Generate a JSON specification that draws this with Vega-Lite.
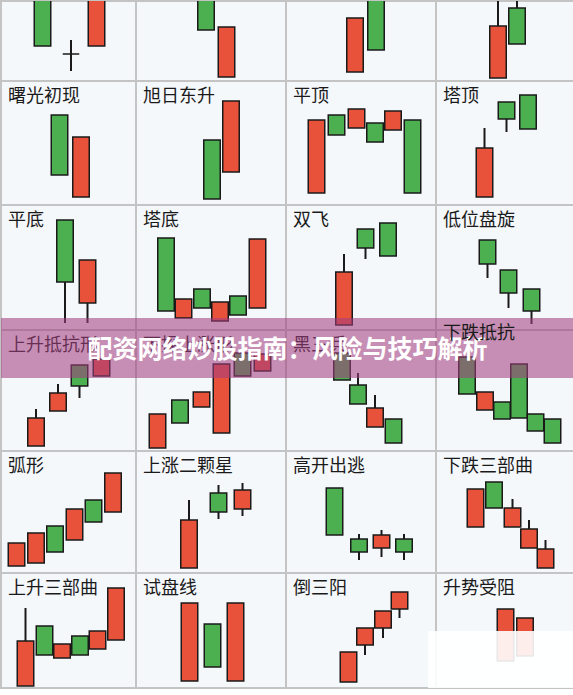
{
"$schema": "https://vega.github.io/schema/vega-lite/v6.json",
"background": "#FFFFFF",
"padding": 0,
"spacing": 0,
"columns": 4,
"bounds": "flush",
"resolve": {"scale": {"x": "independent", "y": "independent"}},
"config": {
 "view": {"fill": "#F5F8FA", "stroke": "#C4C4C4", "strokeWidth": 2},
 "scale": {"continuousPadding": 0},
 "bar": {"stroke": "#1A1A1A", "strokeWidth": 1.5, "continuousBandSize": 16.5},
 "rule": {"color": "#1A1A1A", "strokeWidth": 2},
 "title": {"anchor": "start", "frame": "group", "orient": "top", "offset": -25, "baseline": "alphabetic", "dx": 7, "font": "Noto Sans CJK SC", "fontSize": 18, "fontWeight": "normal", "color": "#1A1A1A"},
 "concat": {"spacing": 0}
},
"datasets": {
 "banner": [{"label":"配资网络炒股指南：风险与技巧解析","x0":-43.5,"x1":13.8,"y0":133,"y1":73,"tx":-14.85,"ty":101}],
 "fade": [{"x0":-0.8,"x1":13.8,"y0":57,"y1":0}]
},
"data": {"values": [
 {"p":"早晨十字星","t":4.15,"o":90,"c":35,"h":90,"l":35},
 {"p":"早晨十字星","t":7.0,"o":27,"c":27,"h":41,"l":10},
 {"p":"早晨十字星","t":9.55,"o":35,"c":90,"h":90,"l":35},
 {"p":"r0b","t":7.0,"o":95,"c":51,"h":95,"l":51},
 {"p":"r0b","t":9.05,"o":4,"c":54,"h":54,"l":4},
 {"p":"r0c","t":6.9,"o":9,"c":63,"h":63,"l":9},
 {"p":"r0c","t":9.0,"o":95,"c":31,"h":95,"l":31},
 {"p":"r0d","t":6.2,"o":3,"c":55,"h":95,"l":3},
 {"p":"r0d","t":8.1,"o":73,"c":37,"h":95,"l":37},
 {"p":"曙光初现","t":5.85,"o":90,"c":30,"h":90,"l":30},
 {"p":"曙光初现","t":8.0,"o":8,"c":68,"h":68,"l":8},
 {"p":"旭日东升","t":7.6,"o":65,"c":6,"h":65,"l":6},
 {"p":"旭日东升","t":9.5,"o":33,"c":104,"h":104,"l":33},
 {"p":"平顶","t":3.05,"o":12,"c":85,"h":85,"l":12},
 {"p":"平顶","t":5.05,"o":90,"c":70,"h":90,"l":70},
 {"p":"平顶","t":7.05,"o":77,"c":96,"h":96,"l":77},
 {"p":"平顶","t":8.9,"o":82,"c":63,"h":82,"l":63},
 {"p":"平顶","t":10.7,"o":75,"c":94,"h":94,"l":75},
 {"p":"平顶","t":12.65,"o":85,"c":12,"h":85,"l":12},
 {"p":"塔顶","t":4.85,"o":8,"c":57,"h":77,"l":8},
 {"p":"塔顶","t":7.05,"o":103,"c":86,"h":103,"l":73},
 {"p":"塔顶","t":9.2,"o":110,"c":76,"h":110,"l":76},
 {"p":"平底","t":6.4,"o":110,"c":48,"h":110,"l":7},
 {"p":"平底","t":8.65,"o":27,"c":70,"h":70,"l":7},
 {"p":"塔底","t":3.0,"o":92,"c":19,"h":92,"l":19},
 {"p":"塔底","t":4.75,"o":12,"c":31,"h":31,"l":12},
 {"p":"塔底","t":6.6,"o":41,"c":22,"h":41,"l":22},
 {"p":"塔底","t":8.4,"o":9,"c":28,"h":28,"l":9},
 {"p":"塔底","t":10.2,"o":34,"c":15,"h":34,"l":15},
 {"p":"塔底","t":12.15,"o":22,"c":91,"h":91,"l":22},
 {"p":"双飞","t":5.8,"o":5,"c":58,"h":76,"l":5},
 {"p":"双飞","t":7.95,"o":101,"c":82,"h":101,"l":71},
 {"p":"双飞","t":10.2,"o":107,"c":74,"h":107,"l":74},
 {"p":"低位盘旋","t":5.15,"o":90,"c":66,"h":90,"l":52},
 {"p":"低位盘旋","t":7.25,"o":60,"c":37,"h":60,"l":22},
 {"p":"低位盘旋","t":9.55,"o":41,"c":19,"h":41,"l":6},
 {"p":"上升抵抗形","t":3.5,"o":5,"c":33,"h":42,"l":5},
 {"p":"上升抵抗形","t":5.7,"o":40,"c":58,"h":67,"l":40},
 {"p":"上升抵抗形","t":7.85,"o":86,"c":65,"h":86,"l":53},
 {"p":"上升抵抗形","t":10.05,"o":75,"c":92,"h":92,"l":75},
 {"p":"下探上涨形","t":2.15,"o":3,"c":37,"h":37,"l":3},
 {"p":"下探上涨形","t":4.4,"o":51,"c":28,"h":51,"l":28},
 {"p":"下探上涨形","t":6.55,"o":44,"c":59,"h":59,"l":44},
 {"p":"下探上涨形","t":8.55,"o":18,"c":87,"h":87,"l":18},
 {"p":"下探上涨形","t":10.65,"o":98,"c":75,"h":98,"l":75},
 {"p":"下探上涨形","t":12.65,"o":80,"c":97,"h":97,"l":80},
 {"p":"黑三兵","t":5.6,"o":98,"c":71,"h":98,"l":71},
 {"p":"黑三兵","t":7.2,"o":66,"c":47,"h":78,"l":47},
 {"p":"黑三兵","t":8.9,"o":24,"c":43,"h":56,"l":24},
 {"p":"黑三兵","t":10.75,"o":32,"c":8,"h":32,"l":8},
 {"p":"下跌抵抗","t":3.1,"o":94,"c":57,"h":94,"l":57},
 {"p":"下跌抵抗","t":4.9,"o":41,"c":59,"h":59,"l":41},
 {"p":"下跌抵抗","t":6.6,"o":49,"c":32,"h":49,"l":32},
 {"p":"下跌抵抗","t":8.3,"o":87,"c":33,"h":87,"l":33},
 {"p":"下跌抵抗","t":9.95,"o":37,"c":20,"h":37,"l":20},
 {"p":"下跌抵抗","t":11.65,"o":32,"c":8,"h":32,"l":8},
 {"p":"弧形","t":1.55,"o":7,"c":30,"h":30,"l":7},
 {"p":"弧形","t":3.5,"o":10,"c":40,"h":40,"l":10},
 {"p":"弧形","t":5.4,"o":47,"c":21,"h":47,"l":21},
 {"p":"弧形","t":7.35,"o":33,"c":64,"h":64,"l":33},
 {"p":"弧形","t":9.25,"o":73,"c":51,"h":73,"l":51},
 {"p":"弧形","t":11.2,"o":61,"c":100,"h":100,"l":61},
 {"p":"上涨二颗星","t":5.3,"o":5,"c":53,"h":73,"l":5},
 {"p":"上涨二颗星","t":8.25,"o":80,"c":61,"h":88,"l":54},
 {"p":"上涨二颗星","t":10.65,"o":64,"c":83,"h":90,"l":57},
 {"p":"高开出逃","t":4.85,"o":85,"c":38,"h":85,"l":38},
 {"p":"高开出逃","t":7.3,"o":34,"c":21,"h":39,"l":13},
 {"p":"高开出逃","t":9.55,"o":25,"c":38,"h":43,"l":16},
 {"p":"高开出逃","t":11.8,"o":34,"c":21,"h":39,"l":13},
 {"p":"下跌三部曲","t":3.95,"o":46,"c":84,"h":84,"l":46},
 {"p":"下跌三部曲","t":5.8,"o":91,"c":65,"h":91,"l":65},
 {"p":"下跌三部曲","t":7.65,"o":46,"c":65,"h":74,"l":46},
 {"p":"下跌三部曲","t":9.3,"o":25,"c":44,"h":53,"l":25},
 {"p":"下跌三部曲","t":10.95,"o":5,"c":24,"h":33,"l":5},
 {"p":"上升三部曲","t":2.45,"o":2,"c":47,"h":80,"l":2},
 {"p":"上升三部曲","t":4.35,"o":62,"c":33,"h":62,"l":33},
 {"p":"上升三部曲","t":6.1,"o":30,"c":44,"h":44,"l":30},
 {"p":"上升三部曲","t":7.9,"o":52,"c":33,"h":52,"l":33},
 {"p":"上升三部曲","t":9.65,"o":39,"c":57,"h":57,"l":39},
 {"p":"上升三部曲","t":11.5,"o":48,"c":100,"h":100,"l":48},
 {"p":"试盘线","t":5.35,"o":7,"c":85,"h":85,"l":7},
 {"p":"试盘线","t":7.65,"o":64,"c":21,"h":64,"l":21},
 {"p":"试盘线","t":9.95,"o":7,"c":85,"h":85,"l":7},
 {"p":"倒三阳","t":6.25,"o":6,"c":36,"h":36,"l":6},
 {"p":"倒三阳","t":7.9,"o":43,"c":60,"h":60,"l":33},
 {"p":"倒三阳","t":9.7,"o":60,"c":77,"h":77,"l":50},
 {"p":"倒三阳","t":11.35,"o":79,"c":96,"h":96,"l":70},
 {"p":"升势受阻","t":6.95,"o":27,"c":79,"h":79,"l":27},
 {"p":"升势受阻","t":8.9,"o":32,"c":70,"h":70,"l":32}
]},
"concat": [
  {"width":135,"height":80,"transform":[{"filter":"datum.p=='早晨十字星'"}],"encoding":{"x":{"field":"t","type":"quantitative","scale":{"domain":[0,13.5],"nice":false,"padding":0},"axis":null}},"layer":[
   {"mark":{"type":"rule","clip":true},"encoding":{"y":{"field":"l","type":"quantitative","scale":{"domain":[0,80],"nice":false},"axis":null},"y2":{"field":"h"}}},
   {"mark":{"type":"bar","clip":true},"encoding":{"y":{"field":"o","type":"quantitative","scale":{"domain":[0,80],"nice":false},"axis":null},"y2":{"field":"c"},"fill":{"condition":{"test":"datum.c>datum.o","value":"#E8523B"},"value":"#4CAF50"}}}]},
  {"width":150,"height":80,"transform":[{"filter":"datum.p=='r0b'"}],"encoding":{"x":{"field":"t","type":"quantitative","scale":{"domain":[0,15],"nice":false,"padding":0},"axis":null}},"layer":[
   {"mark":{"type":"rule","clip":true},"encoding":{"y":{"field":"l","type":"quantitative","scale":{"domain":[0,80],"nice":false},"axis":null},"y2":{"field":"h"}}},
   {"mark":{"type":"bar","clip":true},"encoding":{"y":{"field":"o","type":"quantitative","scale":{"domain":[0,80],"nice":false},"axis":null},"y2":{"field":"c"},"fill":{"condition":{"test":"datum.c>datum.o","value":"#E8523B"},"value":"#4CAF50"}}}]},
  {"width":150,"height":80,"transform":[{"filter":"datum.p=='r0c'"}],"encoding":{"x":{"field":"t","type":"quantitative","scale":{"domain":[0,15],"nice":false,"padding":0},"axis":null}},"layer":[
   {"mark":{"type":"rule","clip":true},"encoding":{"y":{"field":"l","type":"quantitative","scale":{"domain":[0,80],"nice":false},"axis":null},"y2":{"field":"h"}}},
   {"mark":{"type":"bar","clip":true},"encoding":{"y":{"field":"o","type":"quantitative","scale":{"domain":[0,80],"nice":false},"axis":null},"y2":{"field":"c"},"fill":{"condition":{"test":"datum.c>datum.o","value":"#E8523B"},"value":"#4CAF50"}}}]},
  {"width":138,"height":80,"transform":[{"filter":"datum.p=='r0d'"}],"encoding":{"x":{"field":"t","type":"quantitative","scale":{"domain":[0,13.8],"nice":false,"padding":0},"axis":null}},"layer":[
   {"mark":{"type":"rule","clip":true},"encoding":{"y":{"field":"l","type":"quantitative","scale":{"domain":[0,80],"nice":false},"axis":null},"y2":{"field":"h"}}},
   {"mark":{"type":"bar","clip":true},"encoding":{"y":{"field":"o","type":"quantitative","scale":{"domain":[0,80],"nice":false},"axis":null},"y2":{"field":"c"},"fill":{"condition":{"test":"datum.c>datum.o","value":"#E8523B"},"value":"#4CAF50"}}}]},
  {"width":135,"height":124,"title":"曙光初现","transform":[{"filter":"datum.p=='曙光初现'"}],"encoding":{"x":{"field":"t","type":"quantitative","scale":{"domain":[0,13.5],"nice":false,"padding":0},"axis":null}},"layer":[
   {"mark":"rule","encoding":{"y":{"field":"l","type":"quantitative","scale":{"domain":[0,124],"nice":false},"axis":null},"y2":{"field":"h"}}},
   {"mark":"bar","encoding":{"y":{"field":"o","type":"quantitative","scale":{"domain":[0,124],"nice":false},"axis":null},"y2":{"field":"c"},"fill":{"condition":{"test":"datum.c>datum.o","value":"#E8523B"},"value":"#4CAF50"}}}]},
  {"width":150,"height":124,"title":"旭日东升","transform":[{"filter":"datum.p=='旭日东升'"}],"encoding":{"x":{"field":"t","type":"quantitative","scale":{"domain":[0,15],"nice":false,"padding":0},"axis":null}},"layer":[
   {"mark":"rule","encoding":{"y":{"field":"l","type":"quantitative","scale":{"domain":[0,124],"nice":false},"axis":null},"y2":{"field":"h"}}},
   {"mark":"bar","encoding":{"y":{"field":"o","type":"quantitative","scale":{"domain":[0,124],"nice":false},"axis":null},"y2":{"field":"c"},"fill":{"condition":{"test":"datum.c>datum.o","value":"#E8523B"},"value":"#4CAF50"}}}]},
  {"width":150,"height":124,"title":"平顶","transform":[{"filter":"datum.p=='平顶'"}],"encoding":{"x":{"field":"t","type":"quantitative","scale":{"domain":[0,15],"nice":false,"padding":0},"axis":null}},"layer":[
   {"mark":"rule","encoding":{"y":{"field":"l","type":"quantitative","scale":{"domain":[0,124],"nice":false},"axis":null},"y2":{"field":"h"}}},
   {"mark":"bar","encoding":{"y":{"field":"o","type":"quantitative","scale":{"domain":[0,124],"nice":false},"axis":null},"y2":{"field":"c"},"fill":{"condition":{"test":"datum.c>datum.o","value":"#E8523B"},"value":"#4CAF50"}}}]},
  {"width":138,"height":124,"title":"塔顶","transform":[{"filter":"datum.p=='塔顶'"}],"encoding":{"x":{"field":"t","type":"quantitative","scale":{"domain":[0,13.8],"nice":false,"padding":0},"axis":null}},"layer":[
   {"mark":"rule","encoding":{"y":{"field":"l","type":"quantitative","scale":{"domain":[0,124],"nice":false},"axis":null},"y2":{"field":"h"}}},
   {"mark":"bar","encoding":{"y":{"field":"o","type":"quantitative","scale":{"domain":[0,124],"nice":false},"axis":null},"y2":{"field":"c"},"fill":{"condition":{"test":"datum.c>datum.o","value":"#E8523B"},"value":"#4CAF50"}}}]},
  {"width":135,"height":125,"title":"平底","transform":[{"filter":"datum.p=='平底'"}],"encoding":{"x":{"field":"t","type":"quantitative","scale":{"domain":[0,13.5],"nice":false,"padding":0},"axis":null}},"layer":[
   {"mark":"rule","encoding":{"y":{"field":"l","type":"quantitative","scale":{"domain":[0,125],"nice":false},"axis":null},"y2":{"field":"h"}}},
   {"mark":"bar","encoding":{"y":{"field":"o","type":"quantitative","scale":{"domain":[0,125],"nice":false},"axis":null},"y2":{"field":"c"},"fill":{"condition":{"test":"datum.c>datum.o","value":"#E8523B"},"value":"#4CAF50"}}}]},
  {"width":150,"height":125,"title":"塔底","transform":[{"filter":"datum.p=='塔底'"}],"encoding":{"x":{"field":"t","type":"quantitative","scale":{"domain":[0,15],"nice":false,"padding":0},"axis":null}},"layer":[
   {"mark":"rule","encoding":{"y":{"field":"l","type":"quantitative","scale":{"domain":[0,125],"nice":false},"axis":null},"y2":{"field":"h"}}},
   {"mark":"bar","encoding":{"y":{"field":"o","type":"quantitative","scale":{"domain":[0,125],"nice":false},"axis":null},"y2":{"field":"c"},"fill":{"condition":{"test":"datum.c>datum.o","value":"#E8523B"},"value":"#4CAF50"}}}]},
  {"width":150,"height":125,"title":"双飞","transform":[{"filter":"datum.p=='双飞'"}],"encoding":{"x":{"field":"t","type":"quantitative","scale":{"domain":[0,15],"nice":false,"padding":0},"axis":null}},"layer":[
   {"mark":"rule","encoding":{"y":{"field":"l","type":"quantitative","scale":{"domain":[0,125],"nice":false},"axis":null},"y2":{"field":"h"}}},
   {"mark":"bar","encoding":{"y":{"field":"o","type":"quantitative","scale":{"domain":[0,125],"nice":false},"axis":null},"y2":{"field":"c"},"fill":{"condition":{"test":"datum.c>datum.o","value":"#E8523B"},"value":"#4CAF50"}}}]},
  {"width":138,"height":125,"title":"低位盘旋","transform":[{"filter":"datum.p=='低位盘旋'"}],"encoding":{"x":{"field":"t","type":"quantitative","scale":{"domain":[0,13.8],"nice":false,"padding":0},"axis":null}},"layer":[
   {"mark":"rule","encoding":{"y":{"field":"l","type":"quantitative","scale":{"domain":[0,125],"nice":false},"axis":null},"y2":{"field":"h"}}},
   {"mark":"bar","encoding":{"y":{"field":"o","type":"quantitative","scale":{"domain":[0,125],"nice":false},"axis":null},"y2":{"field":"c"},"fill":{"condition":{"test":"datum.c>datum.o","value":"#E8523B"},"value":"#4CAF50"}}}]},
  {"width":135,"height":121,"title":"上升抵抗形","transform":[{"filter":"datum.p=='上升抵抗形'"}],"encoding":{"x":{"field":"t","type":"quantitative","scale":{"domain":[0,13.5],"nice":false,"padding":0},"axis":null}},"layer":[
   {"mark":"rule","encoding":{"y":{"field":"l","type":"quantitative","scale":{"domain":[0,121],"nice":false},"axis":null},"y2":{"field":"h"}}},
   {"mark":"bar","encoding":{"y":{"field":"o","type":"quantitative","scale":{"domain":[0,121],"nice":false},"axis":null},"y2":{"field":"c"},"fill":{"condition":{"test":"datum.c>datum.o","value":"#E8523B"},"value":"#4CAF50"}}}]},
  {"width":150,"height":121,"title":"下探上涨形","transform":[{"filter":"datum.p=='下探上涨形'"}],"encoding":{"x":{"field":"t","type":"quantitative","scale":{"domain":[0,15],"nice":false,"padding":0},"axis":null}},"layer":[
   {"mark":"rule","encoding":{"y":{"field":"l","type":"quantitative","scale":{"domain":[0,121],"nice":false},"axis":null},"y2":{"field":"h"}}},
   {"mark":"bar","encoding":{"y":{"field":"o","type":"quantitative","scale":{"domain":[0,121],"nice":false},"axis":null},"y2":{"field":"c"},"fill":{"condition":{"test":"datum.c>datum.o","value":"#E8523B"},"value":"#4CAF50"}}}]},
  {"width":150,"height":121,"title":"黑三兵","transform":[{"filter":"datum.p=='黑三兵'"}],"encoding":{"x":{"field":"t","type":"quantitative","scale":{"domain":[0,15],"nice":false,"padding":0},"axis":null}},"layer":[
   {"mark":"rule","encoding":{"y":{"field":"l","type":"quantitative","scale":{"domain":[0,121],"nice":false},"axis":null},"y2":{"field":"h"}}},
   {"mark":"bar","encoding":{"y":{"field":"o","type":"quantitative","scale":{"domain":[0,121],"nice":false},"axis":null},"y2":{"field":"c"},"fill":{"condition":{"test":"datum.c>datum.o","value":"#E8523B"},"value":"#4CAF50"}}}]},
  {"width":138,"height":121,"title":"下跌抵抗","layer":[
   {"transform":[{"filter":"datum.p=='下跌抵抗'"}],"mark":"rule","encoding":{"x":{"field":"t","type":"quantitative","scale":{"domain":[0,13.8],"nice":false,"padding":0},"axis":null},"y":{"field":"l","type":"quantitative","scale":{"domain":[0,121],"nice":false},"axis":null},"y2":{"field":"h"}}},
   {"transform":[{"filter":"datum.p=='下跌抵抗'"}],"mark":"bar","encoding":{"x":{"field":"t","type":"quantitative","scale":{"domain":[0,13.8],"nice":false,"padding":0},"axis":null},"y":{"field":"o","type":"quantitative","scale":{"domain":[0,121],"nice":false},"axis":null},"y2":{"field":"c"},"fill":{"condition":{"test":"datum.c>datum.o","value":"#E8523B"},"value":"#4CAF50"}}},
   {"data":{"name":"banner"},"mark":{"type":"rect","color":"#A13D7E","opacity":0.57},"encoding":{"x":{"field":"x0","type":"quantitative","scale":{"domain":[0,13.8],"nice":false,"padding":0},"axis":null},"x2":{"field":"x1"},"y":{"field":"y0","type":"quantitative","scale":{"domain":[0,121],"nice":false},"axis":null},"y2":{"field":"y1"}}},
   {"data":{"name":"banner"},"mark":{"type":"text","color":"#FFFFFF","font":"Noto Sans CJK SC","fontSize":25,"fontWeight":"bold","align":"center","baseline":"middle"},"encoding":{"x":{"field":"tx","type":"quantitative","scale":{"domain":[0,13.8],"nice":false,"padding":0},"axis":null},"y":{"field":"ty","type":"quantitative","scale":{"domain":[0,121],"nice":false},"axis":null},"text":{"field":"label"}}}]},
  {"width":135,"height":122,"title":"弧形","transform":[{"filter":"datum.p=='弧形'"}],"encoding":{"x":{"field":"t","type":"quantitative","scale":{"domain":[0,13.5],"nice":false,"padding":0},"axis":null}},"layer":[
   {"mark":"rule","encoding":{"y":{"field":"l","type":"quantitative","scale":{"domain":[0,122],"nice":false},"axis":null},"y2":{"field":"h"}}},
   {"mark":"bar","encoding":{"y":{"field":"o","type":"quantitative","scale":{"domain":[0,122],"nice":false},"axis":null},"y2":{"field":"c"},"fill":{"condition":{"test":"datum.c>datum.o","value":"#E8523B"},"value":"#4CAF50"}}}]},
  {"width":150,"height":122,"title":"上涨二颗星","transform":[{"filter":"datum.p=='上涨二颗星'"}],"encoding":{"x":{"field":"t","type":"quantitative","scale":{"domain":[0,15],"nice":false,"padding":0},"axis":null}},"layer":[
   {"mark":"rule","encoding":{"y":{"field":"l","type":"quantitative","scale":{"domain":[0,122],"nice":false},"axis":null},"y2":{"field":"h"}}},
   {"mark":"bar","encoding":{"y":{"field":"o","type":"quantitative","scale":{"domain":[0,122],"nice":false},"axis":null},"y2":{"field":"c"},"fill":{"condition":{"test":"datum.c>datum.o","value":"#E8523B"},"value":"#4CAF50"}}}]},
  {"width":150,"height":122,"title":"高开出逃","transform":[{"filter":"datum.p=='高开出逃'"}],"encoding":{"x":{"field":"t","type":"quantitative","scale":{"domain":[0,15],"nice":false,"padding":0},"axis":null}},"layer":[
   {"mark":"rule","encoding":{"y":{"field":"l","type":"quantitative","scale":{"domain":[0,122],"nice":false},"axis":null},"y2":{"field":"h"}}},
   {"mark":"bar","encoding":{"y":{"field":"o","type":"quantitative","scale":{"domain":[0,122],"nice":false},"axis":null},"y2":{"field":"c"},"fill":{"condition":{"test":"datum.c>datum.o","value":"#E8523B"},"value":"#4CAF50"}}}]},
  {"width":138,"height":122,"title":"下跌三部曲","transform":[{"filter":"datum.p=='下跌三部曲'"}],"encoding":{"x":{"field":"t","type":"quantitative","scale":{"domain":[0,13.8],"nice":false,"padding":0},"axis":null}},"layer":[
   {"mark":"rule","encoding":{"y":{"field":"l","type":"quantitative","scale":{"domain":[0,122],"nice":false},"axis":null},"y2":{"field":"h"}}},
   {"mark":"bar","encoding":{"y":{"field":"o","type":"quantitative","scale":{"domain":[0,122],"nice":false},"axis":null},"y2":{"field":"c"},"fill":{"condition":{"test":"datum.c>datum.o","value":"#E8523B"},"value":"#4CAF50"}}}]},
  {"width":135,"height":115,"title":"上升三部曲","transform":[{"filter":"datum.p=='上升三部曲'"}],"encoding":{"x":{"field":"t","type":"quantitative","scale":{"domain":[0,13.5],"nice":false,"padding":0},"axis":null}},"layer":[
   {"mark":"rule","encoding":{"y":{"field":"l","type":"quantitative","scale":{"domain":[0,115],"nice":false},"axis":null},"y2":{"field":"h"}}},
   {"mark":"bar","encoding":{"y":{"field":"o","type":"quantitative","scale":{"domain":[0,115],"nice":false},"axis":null},"y2":{"field":"c"},"fill":{"condition":{"test":"datum.c>datum.o","value":"#E8523B"},"value":"#4CAF50"}}}]},
  {"width":150,"height":115,"title":"试盘线","transform":[{"filter":"datum.p=='试盘线'"}],"encoding":{"x":{"field":"t","type":"quantitative","scale":{"domain":[0,15],"nice":false,"padding":0},"axis":null}},"layer":[
   {"mark":"rule","encoding":{"y":{"field":"l","type":"quantitative","scale":{"domain":[0,115],"nice":false},"axis":null},"y2":{"field":"h"}}},
   {"mark":"bar","encoding":{"y":{"field":"o","type":"quantitative","scale":{"domain":[0,115],"nice":false},"axis":null},"y2":{"field":"c"},"fill":{"condition":{"test":"datum.c>datum.o","value":"#E8523B"},"value":"#4CAF50"}}}]},
  {"width":150,"height":115,"title":"倒三阳","transform":[{"filter":"datum.p=='倒三阳'"}],"encoding":{"x":{"field":"t","type":"quantitative","scale":{"domain":[0,15],"nice":false,"padding":0},"axis":null}},"layer":[
   {"mark":"rule","encoding":{"y":{"field":"l","type":"quantitative","scale":{"domain":[0,115],"nice":false},"axis":null},"y2":{"field":"h"}}},
   {"mark":"bar","encoding":{"y":{"field":"o","type":"quantitative","scale":{"domain":[0,115],"nice":false},"axis":null},"y2":{"field":"c"},"fill":{"condition":{"test":"datum.c>datum.o","value":"#E8523B"},"value":"#4CAF50"}}}]},
  {"width":138,"height":115,"title":"升势受阻","layer":[
   {"transform":[{"filter":"datum.p=='升势受阻'"}],"mark":"rule","encoding":{"x":{"field":"t","type":"quantitative","scale":{"domain":[0,13.8],"nice":false,"padding":0},"axis":null},"y":{"field":"l","type":"quantitative","scale":{"domain":[0,115],"nice":false},"axis":null},"y2":{"field":"h"}}},
   {"transform":[{"filter":"datum.p=='升势受阻'"}],"mark":"bar","encoding":{"x":{"field":"t","type":"quantitative","scale":{"domain":[0,13.8],"nice":false,"padding":0},"axis":null},"y":{"field":"o","type":"quantitative","scale":{"domain":[0,115],"nice":false},"axis":null},"y2":{"field":"c"},"fill":{"condition":{"test":"datum.c>datum.o","value":"#E8523B"},"value":"#4CAF50"}}},
   {"data":{"name":"fade"},"mark":{"type":"rect","color":"#FFFFFF","opacity":0.9},"encoding":{"x":{"field":"x0","type":"quantitative","scale":{"domain":[0,13.8],"nice":false,"padding":0},"axis":null},"x2":{"field":"x1"},"y":{"field":"y0","type":"quantitative","scale":{"domain":[0,115],"nice":false},"axis":null},"y2":{"field":"y1"}}}]}
]
}
